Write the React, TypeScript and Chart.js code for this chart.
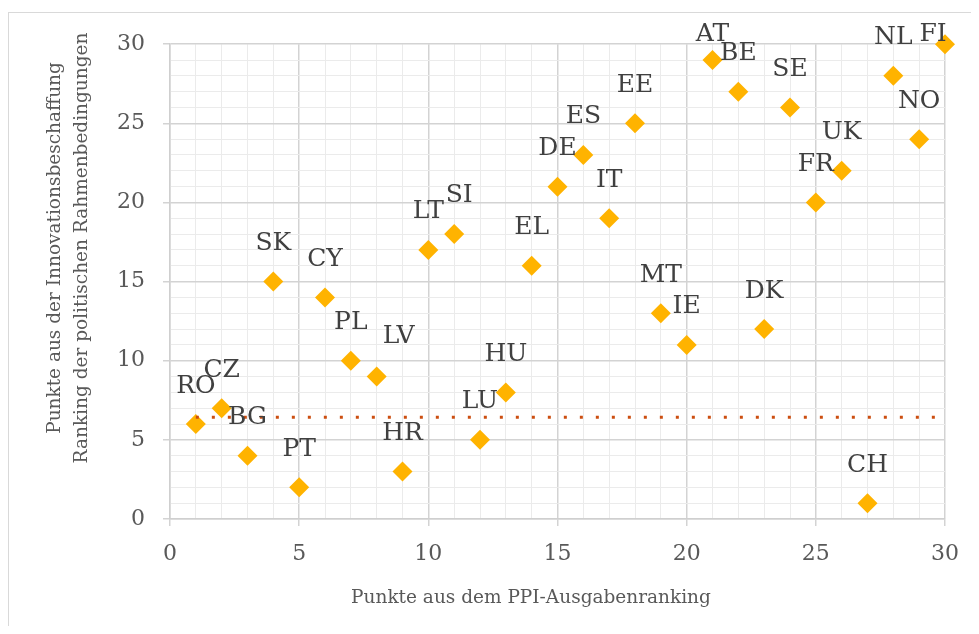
import React, { useEffect, useRef } from 'react';
import { Chart, registerables } from 'chart.js';

Chart.register(...registerables);

const countries = ['RO', 'CZ', 'BG', 'SK', 'PT', 'CY', 'PL', 'LV', 'HR', 'LT', 'SI', 'LU', 'HU', 'EL', 'DE', 'ES', 'IT', 'EE', 'MT', 'IE', 'AT', 'BE', 'DK', 'SE', 'FR', 'UK', 'CH', 'NL', 'NO', 'FI'];
const ppiScores = [1, 2, 3, 4, 5, 6, 7, 8, 9, 10, 11, 12, 13, 14, 15, 16, 17, 18, 19, 20, 21, 22, 23, 24, 25, 26, 27, 28, 29, 30];
const policyScores = [6, 7, 4, 15, 2, 14, 10, 9, 3, 17, 18, 5, 8, 16, 21, 23, 19, 25, 13, 11, 29, 27, 12, 26, 20, 22, 1, 28, 24, 30];

const refLineX = [1, 30];
const refLineY = 6.43;

const xTitle = 'Punkte aus dem PPI-Ausgabenranking';
const yTitleLines = ['Punkte aus der Innovationsbeschaffung', 'Ranking der politischen Rahmenbedingungen'];

// label placement (style only)
const defaultLabelOffset: [number, number] = [0, -38];
const labelOffsets: Record<string, [number, number]> = {
  LV: [22, -40],
  SI: [5, -39],
  AT: [0, -26],
  FI: [-12, -10],
};

const FONT = '"DejaVu Serif", "Liberation Serif", serif';
const MAJOR = '#D3D3D3';
const MINOR = '#EBEBEB';

const textPlugin = {
  id: 'customText',
  afterDatasetsDraw(chart: any) {
    const ctx = chart.ctx;
    const meta = chart.getDatasetMeta(1);
    ctx.save();
    ctx.font = `25px ${FONT}`;
    ctx.fillStyle = '#404040';
    ctx.textAlign = 'center';
    ctx.textBaseline = 'middle';
    meta.data.forEach((el: any, i: number) => {
      const name = countries[i];
      const off = labelOffsets[name] || defaultLabelOffset;
      ctx.fillText(name, el.x + off[0], el.y + off[1]);
    });
    ctx.fillStyle = '#595959';
    ctx.font = `18.5px ${FONT}`;
    ctx.fillText(xTitle, 522, 585);
    const xs = [46, 73];
    yTitleLines.forEach((line, i) => {
      ctx.save();
      ctx.translate(xs[i], 235);
      ctx.rotate(-Math.PI / 2);
      ctx.fillText(line, 0, 0);
      ctx.restore();
    });
    ctx.restore();
  },
};

const isMajor = (v: number) => Math.round(v) % 5 === 0;

export default function App() {
  const ref = useRef<HTMLCanvasElement | null>(null);
  useEffect(() => {
    if (!ref.current) return;
    const points = ppiScores.map((x, i) => ({ x, y: policyScores[i] }));
    const refLine = refLineX.map((x) => ({ x, y: refLineY }));
    const gridCfg = {
      color: (c: any) => (c.tick && isMajor(c.tick.value) ? MAJOR : MINOR),
      lineWidth: (c: any) => (c.tick && isMajor(c.tick.value) ? 1.5 : 1),
      tickColor: (c: any) => (c.tick && isMajor(c.tick.value) ? MAJOR : 'rgba(0,0,0,0)'),
      tickLength: 7,
      drawTicks: true,
    };
    const chart = new Chart(ref.current, {
      type: 'scatter',
      data: {
        datasets: [
          {
            type: 'line',
            data: refLine,
            borderColor: '#CC4E10',
            borderWidth: 3,
            borderDash: [3, 13],
            pointRadius: 0,
            fill: false,
            clip: false,
          } as any,
          {
            data: points,
            pointStyle: 'rectRot',
            pointRadius: 10,
            pointHoverRadius: 10,
            backgroundColor: '#FFB300',
            borderWidth: 0,
            clip: false,
          } as any,
        ],
      },
      options: {
        animation: false,
        responsive: false,
        devicePixelRatio: 1,
        layout: { padding: { left: 0, top: 29, right: 33, bottom: 0 } },
        plugins: { legend: { display: false }, tooltip: { enabled: false } },
        scales: {
          x: {
            type: 'linear',
            min: 0,
            max: 30,
            afterFit: (s: any) => { s.height = 107; },
            ticks: {
              stepSize: 1,
              autoSkip: false,
              maxRotation: 0,
              padding: 15,
              color: '#595959',
              font: { family: FONT, size: 22 },
              callback: (v: any) => (isMajor(Number(v)) ? String(v) : ''),
            },
            grid: gridCfg as any,
            border: { color: '#CFCFCF', width: 1.5 },
          },
          y: {
            type: 'linear',
            min: 0,
            max: 30,
            afterFit: (s: any) => { s.width = 161; },
            ticks: {
              stepSize: 1,
              autoSkip: false,
              padding: 18,
              color: '#595959',
              font: { family: FONT, size: 22 },
              callback: (v: any) => (isMajor(Number(v)) ? String(v) : ''),
            },
            grid: gridCfg as any,
            border: { color: '#CFCFCF', width: 1.5 },
          },
        },
      },
      plugins: [textPlugin],
    });
    return () => chart.destroy();
  }, []);

  return (
    <div
      style={{
        marginTop: 4,
        width: 969,
        height: 613,
        borderTop: '1px solid #D9D9D9',
        borderLeft: '1px solid #D9D9D9',
        borderRight: '1px solid #D9D9D9',
        background: '#fff',
      }}
    >
      <canvas ref={ref} width={969} height={613} style={{ display: 'block' }} />
    </div>
  );
}
